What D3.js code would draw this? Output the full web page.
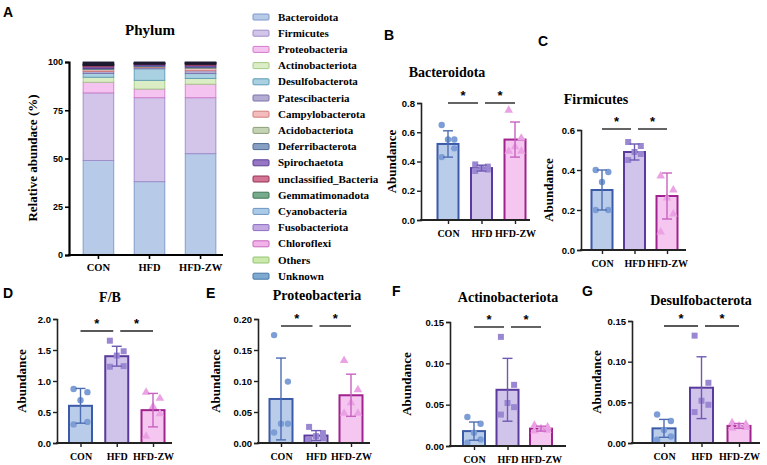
<!DOCTYPE html>
<html><head><meta charset="utf-8">
<script src="https://cdn.jsdelivr.net/npm/d3@7"></script>
<style>
html,body{margin:0;padding:0;background:#fff;}
svg{display:block;}
.serif{font-family:"Liberation Serif","Times New Roman",serif;font-weight:bold;}
.sans{font-family:"Liberation Sans",Arial,sans-serif;font-weight:bold;}
</style></head>
<body>
<svg id="chart" width="767" height="465"></svg>
<script>
// ---------- DATA ----------
const groups = ["CON", "HFD", "HFD-ZW"];
const phyla = ["Bacteroidota","Firmicutes","Proteobacteria","Actinobacteriota","Desulfobacterota","Patescibacteria","Campylobacterota","Acidobacteriota","Deferribacterota","Spirochaetota","unclassified_Bacteria","Gemmatimonadota","Cyanobacteria","Fusobacteriota","Chloroflexi","Others","Unknown"];
const stackCON = [49, 35, 5.5, 2.6, 2.0, 1.0, 0.9, 0.3, 0.4, 0.8, 0.6, 0.2, 0.3, 0.2, 0.2, 0.5, 0.5];
const stackHFD = [38, 43.5, 4.5, 4.5, 6.0, 0.6, 0.4, 0.2, 0.4, 0.6, 0.2, 0.1, 0.2, 0.1, 0.1, 0.2, 0.4];
const stackZW  = [52.5, 29, 7.0, 3.0, 2.5, 1.5, 1.2, 0.3, 0.5, 0.8, 0.5, 0.2, 0.3, 0.2, 0.1, 0.2, 0.2];
const stackTicks = [0, 25, 50, 75, 100];

const bactMean = [0.52, 0.355, 0.55], bactSD = [0.09, 0.02, 0.12];
const bactCON = [0.65, 0.55, 0.55, 0.49, 0.43], bactHFD = [0.38, 0.365, 0.355, 0.345, 0.335], bactZW = [0.75, 0.56, 0.50, 0.47, 0.47];
const bactTicks = [0, 0.2, 0.4, 0.6, 0.8];

const firmMean = [0.30, 0.49, 0.27], firmSD = [0.10, 0.04, 0.115];
const firmCON = [0.40, 0.39, 0.34, 0.20, 0.20], firmHFD = [0.54, 0.52, 0.49, 0.48, 0.45], firmZW = [0.37, 0.30, 0.26, 0.18, 0.09];
const firmTicks = [0, 0.2, 0.4, 0.6];

const fbMean = [0.60, 1.40, 0.53], fbSD = [0.28, 0.16, 0.27];
const fbCON = [0.87, 0.82, 0.69, 0.34, 0.30], fbHFD = [1.65, 1.48, 1.41, 1.24, 1.23], fbZW = [0.82, 0.72, 0.59, 0.47, 0.11];
const fbTicks = [0, 0.5, 1.0, 1.5, 2.0];

const protMean = [0.071, 0.012, 0.077], protSD = [0.066, 0.008, 0.034];
const protCON = [0.174, 0.099, 0.031, 0.031, 0.017], protHFD = [0.026, 0.016, 0.011, 0.008, 0.006], protZW = [0.133, 0.086, 0.065, 0.048, 0.048];
const protTicks = [0, 0.05, 0.10, 0.15, 0.20];

const actMean = [0.018, 0.068, 0.021], actSD = [0.011, 0.038, 0.003];
const actCON = [0.035, 0.027, 0.016, 0.008, 0.004], actHFD = [0.132, 0.074, 0.052, 0.047, 0.038], actZW = [0.025, 0.023, 0.021, 0.019, 0.018];
const actTicks = [0, 0.05, 0.10, 0.15];

const desMean = [0.018, 0.068, 0.021], desSD = [0.011, 0.038, 0.003];
const desCON = [0.035, 0.027, 0.016, 0.008, 0.004], desHFD = [0.132, 0.074, 0.052, 0.047, 0.038], desZW = [0.025, 0.023, 0.021, 0.019, 0.018];
const desTicks = [0, 0.05, 0.10, 0.15];

// ---------- STYLE ----------
const phylaFill = ["#b7cbe9","#d3c5ea","#f5c3f0","#dbedc4","#a9d1e2","#b4acd3","#f4bcbc","#c5d3b5","#889fc4","#9676c4","#d27492","#76ab8c","#abcae8","#c3abe2","#f1b3ea","#cbe9ab","#7eaad2"];
const phylaStroke = ["#7c97c9","#9d8ac8","#d27acb","#a3c986","#5c9bb8","#7a72aa","#d07b7b","#8aa078","#4d6b94","#5d3c94","#943355","#3d7556","#6d95c4","#8c6ec4","#c767bb","#93c474","#4576a4"];
const grpFill = ["#b9cdea", "#d0c4ea", "#f5c6ef"];
const grpStroke = ["#3b5ba8", "#5a3a9c", "#a0228e"];
const grpErr = ["#4d6db2", "#6f5ab2", "#c862c1"];
const grpPt = ["#7c9dd5", "#9a87d2", "#eba2e4"];
const jitter = [-0.3, 0.3, 0, 0.3, -0.3];

const svg = d3.select("#chart");

function panelLabel(t, x, y) {
  svg.append("text").attr("class","sans").attr("x",x).attr("y",y).attr("font-size",14).text(t);
}

// ---------- PANEL A ----------
(function(){
  const g = svg.append("g");
  panelLabel("A", 3, 17);
  const y = d3.scaleLinear().domain([0,100]).range([255, 62]);
  const x = d3.scaleBand().domain(groups).range([77, 222]).paddingInner(0.4).paddingOuter(0.12);
  const rows = [stackCON, stackHFD, stackZW].map((arr,i)=>{
    const o = {grp: groups[i]}; phyla.forEach((p,j)=>o[p]=arr[j]); return o;
  });
  const series = d3.stack().keys(phyla)(rows);
  series.forEach((s,k)=>{
    g.selectAll(null).data(s).enter().append("rect")
      .attr("x", d=>x(d.data.grp)).attr("width", x.bandwidth())
      .attr("y", d=>y(d[1])).attr("height", d=>Math.max(0, y(d[0])-y(d[1])))
      .attr("fill", k>=11 ? "#2b2440" : phylaFill[k])
      .attr("stroke", k>=11 ? "#1e1a30" : phylaStroke[k]).attr("stroke-width", 0.9);
  });
  const ya = g.append("g").attr("transform","translate(69,0)")
    .call(d3.axisLeft(y).tickValues(stackTicks).tickSize(4).tickPadding(2));
  ya.select(".domain").attr("stroke","#000").attr("stroke-width",2.2);
  ya.selectAll(".tick line").attr("stroke","#000").attr("stroke-width",1.6);
  ya.selectAll("text").attr("class","sans").attr("font-size",9).attr("fill","#000");
  const xa = g.append("g").attr("transform","translate(0,255)")
    .call(d3.axisBottom(x).tickSize(4).tickPadding(5));
  xa.select(".domain").remove();
  g.append("line").attr("x1",68).attr("x2",223).attr("y1",255).attr("y2",255).attr("stroke","#000").attr("stroke-width",2.2);
  xa.selectAll(".tick line").attr("stroke","#000").attr("stroke-width",1.6);
  xa.selectAll("text").attr("class","serif").attr("font-size",10.5).attr("fill","#000");
  g.append("text").attr("class","serif").attr("x",150).attr("y",35).attr("text-anchor","middle").attr("font-size",15).text("Phylum");
  g.append("text").attr("class","serif").attr("transform","translate(37,158) rotate(-90)").attr("text-anchor","middle").attr("font-size",13).text("Relative abundace (%)");
  const lg = svg.append("g");
  phyla.forEach((p,i)=>{
    const yy = 17 + i*16.2;
    lg.append("rect").attr("x",253).attr("y",yy-3).attr("width",16).attr("height",6).attr("rx",1)
      .attr("fill",phylaFill[i]).attr("stroke",phylaStroke[i]).attr("stroke-width",1);
    lg.append("text").attr("class","serif").attr("x",278).attr("y",yy+3.5).attr("font-size",11).text(p);
  });
})();

// ---------- BAR PANELS ----------
const panels = [
  {lab:"B", title:"Bacteroidota", mean:bactMean, sd:bactSD, pts:[bactCON,bactHFD,bactZW], ticks:bactTicks, fmt:".1f",
   L:{lx:384, ly:40, titleX:447, titleY:77, axisX:421, axisEnd:530, y0:220, yTop:103, c0:448, c2:515, bw:21, ylabX:396, xlabY:240, sigY:103}},
  {lab:"C", title:"Firmicutes", mean:firmMean, sd:firmSD, pts:[firmCON,firmHFD,firmZW], ticks:firmTicks, fmt:".1f",
   L:{lx:538, ly:46, titleX:596, titleY:104, axisX:581, axisEnd:686, y0:250, yTop:130, c0:602, c2:667, bw:21, ylabX:553, xlabY:270, sigY:129}},
  {lab:"D", title:"F/B", mean:fbMean, sd:fbSD, pts:[fbCON,fbHFD,fbZW], ticks:fbTicks, fmt:".1f",
   L:{lx:3, ly:298, titleX:110, titleY:302, axisX:57, axisEnd:172, y0:443, yTop:319, c0:80.5, c2:153, bw:23, ylabX:26, xlabY:460, sigY:331}},
  {lab:"E", title:"Proteobacteria", mean:protMean, sd:protSD, pts:[protCON,protHFD,protZW], ticks:protTicks, fmt:".2f",
   L:{lx:206, ly:298, titleX:317, titleY:300, axisX:258, axisEnd:370, y0:443, yTop:319, c0:281, c2:351, bw:23, ylabX:220, xlabY:460, sigY:326}},
  {lab:"F", title:"Actinobacteriota", mean:actMean, sd:actSD, pts:[actCON,actHFD,actZW], ticks:actTicks, fmt:".2f",
   L:{lx:392, ly:296, titleX:508, titleY:302, axisX:450, axisEnd:566, y0:446, yTop:322, c0:474, c2:541, bw:22, ylabX:411, xlabY:462, sigY:327}},
  {lab:"G", title:"Desulfobacterota", mean:desMean, sd:desSD, pts:[desCON,desHFD,desZW], ticks:desTicks, fmt:".2f",
   L:{lx:582, ly:296, titleX:701, titleY:305, axisX:632, axisEnd:760, y0:443, yTop:321, c0:664, c2:739, bw:23, ylabX:601, xlabY:460, sigY:326}}
];

panels.forEach(P=>{
  const L = P.L;
  const g = svg.append("g");
  panelLabel(P.lab, L.lx, L.ly);
  const y = d3.scaleLinear().domain([0, d3.max(P.ticks)]).range([L.y0, L.yTop]);
  const x = d3.scalePoint().domain(groups).range([L.c0, L.c2]);
  g.selectAll(".bar").data(P.mean).enter().append("rect")
    .attr("x",(d,i)=>x(groups[i])-L.bw/2).attr("width",L.bw)
    .attr("y",d=>y(d)).attr("height",d=>L.y0-y(d))
    .attr("fill",(d,i)=>grpFill[i]).attr("stroke",(d,i)=>grpStroke[i]).attr("stroke-width",2);
  P.pts.forEach((arr,i)=>{
    const cx = x(groups[i]);
    arr.forEach((v,j)=>{
      const px = cx + jitter[j]*L.bw, py = y(v);
      if (i===0) g.append("circle").attr("cx",px).attr("cy",py).attr("r",3.2).attr("fill",grpPt[i]);
      else if (i===1) g.append("rect").attr("x",px-3).attr("y",py-3).attr("width",6).attr("height",6).attr("fill",grpPt[i]);
      else g.append("path").attr("d",d3.symbol(d3.symbolTriangle, 32)()).attr("transform",`translate(${px},${py})`).attr("fill",grpPt[i]);
    });
  });
  P.mean.forEach((m,i)=>{
    const cx = x(groups[i]), hi = y(m+P.sd[i]), lo = y(Math.max(0,m-P.sd[i]));
    const c = grpErr[i];
    g.append("line").attr("x1",cx).attr("x2",cx).attr("y1",hi).attr("y2",lo).attr("stroke",c).attr("stroke-width",1.4);
    [hi,lo].forEach(yy=>g.append("line").attr("x1",cx-5).attr("x2",cx+5).attr("y1",yy).attr("y2",yy).attr("stroke",c).attr("stroke-width",1.4));
  });
  const ya = g.append("g").attr("transform",`translate(${L.axisX},0)`)
    .call(d3.axisLeft(y).tickValues(P.ticks).tickFormat(d3.format(P.fmt)).tickSize(4).tickPadding(2));
  ya.select(".domain").attr("stroke","#222").attr("stroke-width",1.6);
  ya.selectAll(".tick line").attr("stroke","#222").attr("stroke-width",1.4);
  ya.selectAll("text").attr("class","sans").attr("font-size",9.5).attr("fill","#000");
  const xa = g.append("g").attr("transform",`translate(0,${L.y0})`)
    .call(d3.axisBottom(x).tickSize(4).tickPadding(6));
  xa.select(".domain").remove();
  g.append("line").attr("x1",L.axisX-1).attr("x2",L.axisEnd).attr("y1",L.y0).attr("y2",L.y0).attr("stroke","#222").attr("stroke-width",1.8);
  xa.selectAll(".tick line").attr("stroke","#222").attr("stroke-width",1.4);
  xa.selectAll("text").attr("class","serif").attr("font-size",10).attr("fill","#000");
  g.append("text").attr("class","serif").attr("x",L.titleX).attr("y",L.titleY).attr("text-anchor","middle").attr("font-size",14).text(P.title);
  g.append("text").attr("class","serif").attr("transform",`translate(${L.ylabX},${(L.y0+L.yTop)/2}) rotate(-90)`)
    .attr("text-anchor","middle").attr("font-size",13).text("Abundance");
  const c0 = x(groups[0]), c1 = x(groups[1]), c2 = x(groups[2]);
  [[c0, c1-3.5],[c1+3.5, c2]].forEach(([a,b])=>{
    g.append("line").attr("x1",a).attr("x2",b).attr("y1",L.sigY).attr("y2",L.sigY).attr("stroke","#222").attr("stroke-width",1.4);
    g.append("text").attr("class","sans").attr("x",(a+b)/2).attr("y",L.sigY-3).attr("text-anchor","middle").attr("font-size",13).text("*");
  });
});
</script>
</body></html>
